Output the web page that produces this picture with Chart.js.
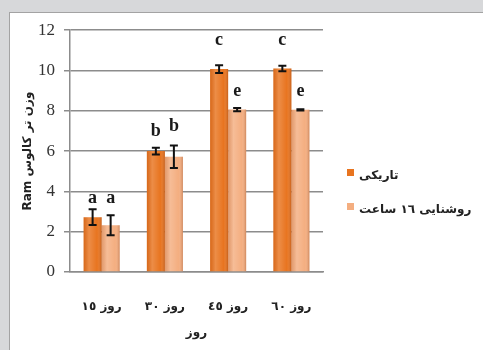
<!DOCTYPE html>
<html>
<head>
<meta charset="utf-8">
<script src="https://cdn.jsdelivr.net/npm/chart.js@4.4.0/dist/chart.umd.min.js"></script>
<style>
    html, body { margin: 0; padding: 0; background: #d7d8da; width: 483px; height: 350px; overflow: hidden; }
    #panel { position: absolute; left: 9px; top: 12px; width: 480px; height: 345px; background: #fff; border: 1px solid #a3a3a3; }
    #wrap { position: absolute; left: 0; top: -2px; width: 473px; height: 339px; }
    #legend { position: absolute; left: 337px; top: 153px; font: bold 12px 'DejaVu Sans', sans-serif; color: #222; }
    #legend div { height: 34px; line-height: 18px; white-space: nowrap; }
    #legend i { display: inline-block; width: 7px; height: 7px; margin-right: 5px; vertical-align: 3px; }
    #legend span { unicode-bidi: isolate; }
</style>
</head>
<body>
<div id="panel">
    <div id="wrap"><canvas id="chart"></canvas></div>
    <div id="legend"></div>
</div>
<script>
const categories = ["روز ١٥", "روز ٣٠", "روز ٤٥", "روز ٦٠"];
const seriesNames = ["تاریکی", "روشنایی ١٦ ساعت"];
const seriesColors = ["#e8741f", "#f4ae80"];
const darkValues = [2.72, 6.0, 10.07, 10.1];
const lightValues = [2.32, 5.72, 8.06, 8.05];
const darkErrors = [0.39, 0.17, 0.19, 0.14];
const lightErrors = [0.5, 0.56, 0.08, 0.03];
const darkLetters = ["a", "b", "c", "c"];
const lightLetters = ["a", "b", "e", "e"];
// where the letters sit, in axis units
const darkLetterY = [3.65, 7.0, 11.5, 11.5];
const lightLetterY = [3.65, 7.25, 8.95, 8.95];
const yTicks = [0, 2, 4, 6, 8, 10, 12];

const errors = [darkErrors, lightErrors];
const letters = [darkLetters, lightLetters];
const letterY = [darkLetterY, lightLetterY];

const arabicFont = "'DejaVu Sans', sans-serif";
const serifFont = "'Liberation Serif', 'DejaVu Serif', serif";

// cylinder shading, error bars and letter marks on top of the bars
const barDecor = {
    id: "barDecor",
    afterDatasetsDraw(chart) {
        const ctx = chart.ctx;
        const y = chart.scales.y;
        ctx.save();
        chart.data.datasets.forEach((ds, di) => {
            const meta = chart.getDatasetMeta(di);
            meta.data.forEach((bar, i) => {
                const left = bar.x - bar.width / 2;
                const g = ctx.createLinearGradient(left, 0, left + bar.width, 0);
                g.addColorStop(0, "rgba(120,40,0,0.15)");
                g.addColorStop(0.3, "rgba(255,255,255,0.18)");
                g.addColorStop(0.75, "rgba(255,255,255,0.0)");
                g.addColorStop(1, "rgba(120,40,0,0.3)");
                ctx.fillStyle = g;
                ctx.fillRect(left, bar.y, bar.width, bar.base - bar.y);

                const v = ds.data[i];
                const e = errors[di][i];
                const top = y.getPixelForValue(v + e);
                const bot = y.getPixelForValue(v - e);
                ctx.strokeStyle = "#111";
                ctx.lineWidth = 2;
                ctx.beginPath();
                ctx.moveTo(bar.x, top); ctx.lineTo(bar.x, bot);
                ctx.moveTo(bar.x - 4, top); ctx.lineTo(bar.x + 4, top);
                ctx.moveTo(bar.x - 4, bot); ctx.lineTo(bar.x + 4, bot);
                ctx.stroke();

                ctx.fillStyle = "#1a1a1a";
                ctx.font = "bold 18px " + serifFont;
                ctx.textAlign = "center";
                ctx.textBaseline = "middle";
                ctx.fillText(letters[di][i], bar.x, y.getPixelForValue(letterY[di][i]));
            });
        });
        ctx.restore();
    }
};

new Chart(document.getElementById("chart"), {
    type: "bar",
    data: {
        labels: categories,
        datasets: [
            { label: seriesNames[0], data: darkValues, backgroundColor: seriesColors[0], borderWidth: 0 },
            { label: seriesNames[1], data: lightValues, backgroundColor: seriesColors[1], borderWidth: 0 }
        ]
    },
    options: {
        responsive: true,
        maintainAspectRatio: false,
        animation: false,
        categoryPercentage: 0.57,
        barPercentage: 1,
        layout: { padding: { left: 0, top: 14, right: 160, bottom: 0 } },
        plugins: {
            tooltip: { enabled: false },
            legend: { display: false }
        },
        scales: {
            x: {
                grid: { display: false },
                border: { color: "#8c8c8c", width: 1.5 },
                ticks: { color: "#222", padding: 20, font: { family: arabicFont, size: 12, weight: "bold" } },
                title: { display: true, text: "روز", color: "#222", padding: { top: 0, bottom: 10 }, font: { family: arabicFont, size: 12, weight: "bold" } },
                afterFit(scale) { scale.height = 78; }
            },
            y: {
                min: 0,
                max: 12,
                afterBuildTicks(scale) { scale.ticks = yTicks.map(v => ({ value: v })); },
                grid: { color: "#8c8c8c", lineWidth: 1.5, tickLength: 6 },
                border: { color: "#8c8c8c", width: 1.5 },
                ticks: { color: "#333", padding: 9, font: { family: serifFont, size: 17 } },
                title: { display: true, text: "Ram وزن تر کالوس", color: "#222", padding: { top: 11, bottom: 0 }, font: { family: arabicFont, size: 12, weight: "bold" } },
                afterFit(scale) { scale.width = 60; }
            }
        }
    },
    plugins: [barDecor]
});

// legend next to the plot
const legend = document.getElementById("legend");
seriesNames.forEach((name, i) => {
    const row = document.createElement("div");
    const box = document.createElement("i");
    box.style.background = seriesColors[i];
    const txt = document.createElement("span");
    txt.textContent = name;
    row.appendChild(box);
    row.appendChild(txt);
    legend.appendChild(row);
});
</script>
</body>
</html>
